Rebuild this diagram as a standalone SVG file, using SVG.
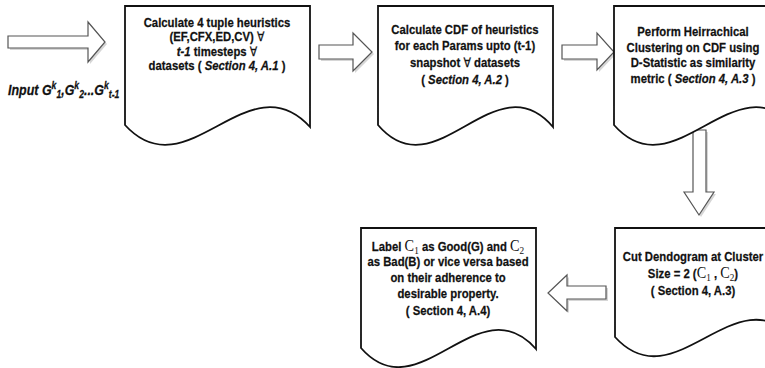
<svg xmlns="http://www.w3.org/2000/svg" width="765" height="368" viewBox="0 0 765 368">
<style>
.doc{fill:#fff;stroke:#111;stroke-width:1.8}
.arr{fill:#fff;stroke:#555;stroke-width:1.2}
.sh{fill:#bbb;stroke:none;opacity:0.6}
.t{font-family:"Liberation Sans",Arial,sans-serif;font-weight:bold;font-size:13.5px;fill:#111;stroke:#111;stroke-width:0.25;text-anchor:middle}
.i{font-style:italic}
.fa{font-family:"DejaVu Sans",sans-serif;font-weight:normal;font-size:13px}
.m{font-family:"Liberation Serif",serif;font-weight:normal;font-size:17px;stroke:none}
.ms{font-family:"Liberation Serif",serif;font-weight:normal;font-size:11px;stroke:none}
</style>
<rect width="765" height="368" fill="#fff"/>
<g id="connectors">
  <g id="a1">
    <polygon class="sh" points="10,38 90,38 90,24 107,44 90,64 90,50 10,50"/>
    <polygon class="arr" points="8,36 88,36 88,22 105,42 88,62 88,48 8,48"/>
  </g>
  <g id="a2">
    <polygon class="sh" points="321,47 355,47 355,35 374,54 355,73 355,61 321,61"/>
    <polygon class="arr" points="319,45 353,45 353,33 372,52 353,71 353,59 319,59"/>
  </g>
  <g id="a3">
    <polygon class="sh" points="564,47 599,47 599,35 616,54 599,72 599,61 564,61"/>
    <polygon class="arr" points="562,45 597,45 597,33 614,52 597,70 597,59 562,59"/>
  </g>
  <g id="a4">
    <polygon class="sh" points="695,132 708,132 708,194 716,194 701,217 686,194 695,194"/>
    <polygon class="arr" points="693,130 706,130 706,192 714,192 699,215 684,192 693,192"/>
  </g>
  <g id="a5">
    <polygon class="sh" points="608,288 569,288 569,277 550,295 569,313 569,301 608,301"/>
    <polygon class="arr" points="606,286 567,286 567,275 548,293 567,311 567,299 606,299"/>
  </g>
</g>
<g id="input" transform="translate(8 0) scale(0.86 1)">
  <text class="t i" x="0" y="95" style="text-anchor:start;font-size:14.5px">Input G<tspan font-size="10" dy="-6">k</tspan><tspan font-size="10" dy="9">1</tspan><tspan dy="-3">,G</tspan><tspan font-size="10" dy="-6">k</tspan><tspan font-size="10" dy="9">2</tspan><tspan dy="-3">...G</tspan><tspan font-size="10" dy="-6">k</tspan><tspan font-size="10" dy="9">t-1</tspan></text>
</g>
<g id="n1">
  <path class="doc" d="M125,125 V6 H310 V127 C248,59 187,193 125,125 Z"/>
  <g transform="translate(217 0) scale(0.84 1)">
    <text class="t" x="0" y="27">Calculate 4 tuple heuristics</text>
    <text class="t" x="0" y="41.5">(EF,CFX,ED,CV) <tspan class="fa">∀</tspan></text>
    <text class="t" x="0" y="56"><tspan class="i">t-1</tspan> timesteps <tspan class="fa">∀</tspan></text>
    <text class="t" x="0" y="70.5">datasets ( <tspan class="i">Section 4, A.1</tspan> )</text>
  </g>
</g>
<g id="n2">
  <path class="doc" d="M378,125 V6 H553 V127 C495,59 436,193 378,125 Z"/>
  <g transform="translate(465 0) scale(0.84 1)">
    <text class="t" x="0" y="34">Calculate CDF of heuristics</text>
    <text class="t" x="0" y="50">for each Params upto (t-1)</text>
    <text class="t" x="0" y="67">snapshot <tspan class="fa">∀</tspan>  datasets</text>
    <text class="t" x="0" y="84">( <tspan class="i">Section 4, A.2</tspan> )</text>
  </g>
</g>
<g id="n3">
  <path class="doc" d="M614,125 V6 H795 V127 C735,59 674,193 614,125 Z"/>
  <g transform="translate(693 0) scale(0.84 1)">
    <text class="t" x="0" y="36">Perform Heirrachical</text>
    <text class="t" x="0" y="52">Clustering on CDF using</text>
    <text class="t" x="0" y="67">D-Statistic as similarity</text>
    <text class="t" x="0" y="83">metric ( <tspan class="i">Section 4, A.3</tspan> )</text>
  </g>
</g>
<g id="n4">
  <path class="doc" d="M615,337 V228 H795 V339 C735,273 675,403 615,337 Z"/>
  <g transform="translate(693 0) scale(0.84 1)">
    <text class="t" x="0" y="261">Cut Dendogram at Cluster</text>
    <text class="t" x="0" y="278">Size = 2 (<tspan class="m">C</tspan><tspan class="ms" dy="3">1</tspan><tspan dy="-3"> , </tspan><tspan class="m">C</tspan><tspan class="ms" dy="3">2</tspan><tspan dy="-3">)</tspan></text>
    <text class="t" x="0" y="295">( Section 4, A.3)</text>
  </g>
</g>
<g id="n5">
  <path class="doc" d="M361,348 V228 H536 V349 C478,283 419,414 361,348 Z"/>
  <g transform="translate(448 0) scale(0.84 1)">
    <text class="t" x="0" y="251">Label <tspan class="m">C</tspan><tspan class="ms" dy="3">1</tspan><tspan dy="-3">  as Good(G) and </tspan><tspan class="m">C</tspan><tspan class="ms" dy="3">2</tspan></text>
    <text class="t" x="0" y="266">as Bad(B) or vice versa based</text>
    <text class="t" x="0" y="282">on their adherence to</text>
    <text class="t" x="0" y="298">desirable property.</text>
    <text class="t" x="0" y="315">( Section 4, A.4)</text>
  </g>
</g>
</svg>
